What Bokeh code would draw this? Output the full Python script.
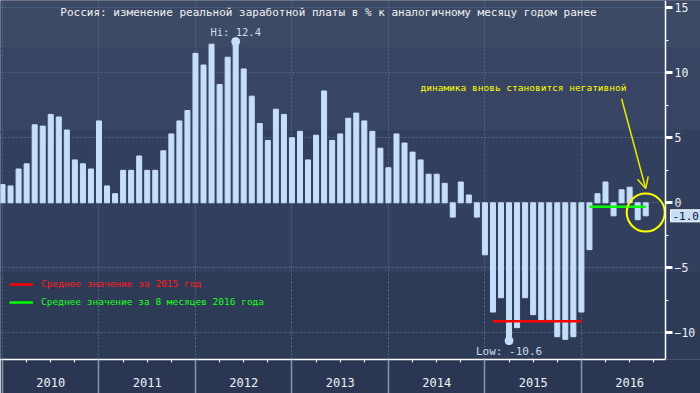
from bokeh.plotting import figure
from bokeh.models import (Range1d, FixedTicker, Label, Arrow, OpenHead, Legend, LegendItem,
                          BoxAnnotation)
from bokeh.core.properties import value
from bokeh.embed import file_html
from bokeh.resources import INLINE

# ---------------- data ----------------
first_month = "2009-12"   # index 0 = Dec 2009, then monthly up to Aug 2016
wage_growth = [
    1.4,
    1.3, 2.6, 3.0, 6.0, 5.9, 6.8, 6.6, 5.6, 3.3, 3.0, 2.6, 6.3,          # 2010
    1.3, 0.7, 2.5, 2.5, 3.6, 2.5, 2.5, 4.0, 5.3, 6.3, 7.1, 11.5,         # 2011
    10.6, 12.2, 9.1, 11.2, 12.4, 10.3, 8.2, 6.1, 4.8, 7.2, 6.8, 5.0,     # 2012
    5.5, 3.3, 5.2, 8.6, 4.8, 5.3, 6.5, 6.9, 6.3, 5.5, 4.2, 2.7,          # 2013
    5.3, 4.6, 3.9, 3.3, 2.2, 2.2, 1.5, -1.1, 1.6, 0.6, -1.1, -4.0,       # 2014
    -8.4, -7.3, -10.6, -9.6, -7.3, -8.6, -9.1, -9.0, -10.3, -10.5, -10.3, -8.4,  # 2015
    -3.6, 0.7, 1.6, -1.0, 1.0, 1.2, -1.3, -1.0,                          # 2016 (8 months)
]
years = ["2010", "2011", "2012", "2013", "2014", "2015", "2016"]
y_ticks = [-10, -5, 0, 5, 10, 15]
y_minor_ticks = [-12.5, -7.5, -2.5, 2.5, 7.5, 12.5]
title_text = "Россия: изменение реальной заработной платы в % к аналогичному месяцу годом ранее"
note_text = "динамика вновь становится негативной"
avg_2015_label = "Среднее значение за 2015 год"
avg_2016_label = "Среднее значение за 8 месяцев 2016 года"

FONT = "DejaVu Sans Mono"
BAR = "#c5defa"
GRID = "#4e6b89"
W, H = 700, 393
FH = 359                       # frame height (bottom axis strip below it)
AXIS_PX = 665                  # where the value axis sits
BANDS = [(0, 48, "#3d4a66"), (48, 131, "#384562"), (131, 273, "#33405d"), (273, 359, "#2e3b57")]

n = len(wage_growth)
xs = list(range(n))
idx_2015 = list(range(1 + 12 * 5, 1 + 12 * 6))
idx_2016 = list(range(1 + 12 * 6, n))
mean_2015 = sum(wage_growth[i] for i in idx_2015) / len(idx_2015)
mean_2016 = sum(wage_growth[i] for i in idx_2016) / len(idx_2016)

X0, X_AXIS = -0.25, 82.46
X_END = X0 + (X_AXIS - X0) * W / AXIS_PX
boundaries = [12 * k for k in range(len(years))]
quarters = [12 * k + q for k in range(len(years)) for q in (3, 6, 9)]
mids = [12 * k + 6 for k in range(len(years))]

p = figure(width=W, height=H, output_backend="svg", toolbar_location=None,
           x_range=Range1d(X0, X_END), y_range=Range1d(-12.05, 15.56),
           y_axis_location="right",
           min_border_left=0, min_border_right=0, min_border_top=0, min_border_bottom=H - FH)
p.background_fill_color = "#33405d"
p.border_fill_color = "#2b3752"
p.outline_line_color = None


def bands(left_px, level):
    # each band overlaps the next one by a pixel so no seam shows
    for k, (top, bot, col) in enumerate(BANDS):
        ext = 1 if k < len(BANDS) - 1 else 0
        p.add_layout(BoxAnnotation(left=left_px, right=W + 2, left_units="screen", right_units="screen",
                                   top=FH - top + 1, bottom=FH - bot - ext,
                                   top_units="screen", bottom_units="screen",
                                   fill_color=col, fill_alpha=1, line_color=None, level=level))


bands(-2, "image")

# grids
p.xgrid.ticker = FixedTicker(ticks=boundaries)
p.ygrid.ticker = FixedTicker(ticks=y_ticks)
for g in (p.xgrid[0], p.ygrid[0]):
    g.grid_line_color = GRID
    g.grid_line_dash = "2 2"
    g.grid_line_width = 1

# the strip right of the value axis has no grid: repaint its bands above the grid
bands(AXIS_PX, "underlay")

# value axis, drawn at a fixed place inside the frame
ya = p.yaxis[0]
ya.fixed_location = X_AXIS
ya.ticker = FixedTicker(ticks=y_ticks, minor_ticks=y_minor_ticks)
ya.axis_line_color = "white"
ya.axis_line_width = 1.5
ya.major_tick_in = 0
ya.major_tick_out = 7
ya.major_tick_line_width = 3
ya.major_tick_line_color = "white"
ya.minor_tick_in = 0
ya.minor_tick_out = 3
ya.minor_tick_line_color = "white"
ya.major_label_standoff = 2
ya.major_label_text_font = FONT
ya.major_label_text_font_size = "11.5px"
ya.major_label_text_color = "#eef2f6"

# bottom axis: quarter ticks carry the year labels, year boundaries are long minor ticks
xa = p.xaxis[0]
xa.bounds = (X0, X_AXIS)
xa.ticker = FixedTicker(ticks=quarters, minor_ticks=boundaries)
xa.major_label_overrides = {q: (years[q // 12] if q in mids else "") for q in quarters}
xa.axis_line_color = "white"
xa.axis_line_width = 1.5
xa.major_tick_in = 0
xa.major_tick_out = 3
xa.major_tick_line_color = "white"
xa.minor_tick_in = 0
xa.minor_tick_out = H - FH
xa.minor_tick_line_color = "#8a97aa"
xa.minor_tick_line_width = 1.5
xa.major_label_standoff = -16
xa.major_label_text_font = FONT
xa.major_label_text_font_size = "12px"
xa.major_label_text_color = "#eef2f6"

# bars
p.vbar(x=xs, top=wage_growth, bottom=0, width=0.62, color=BAR)

# averages
r15 = p.line(x=[idx_2015[0], idx_2015[-1]], y=[mean_2015, mean_2015], line_color="#ff0000", line_width=2.5)
r16 = p.line(x=[idx_2016[0], idx_2016[-1]], y=[mean_2016, mean_2016], line_color="#00ff00", line_width=2.5)

for r, lab, col, yloc in ((r15, avg_2015_label, "#ff1a1a", 70), (r16, avg_2016_label, "#1aff1a", 52)):
    leg = Legend(items=[LegendItem(label=lab, renderers=[r])], location=(9, yloc),
                 background_fill_alpha=0, border_line_alpha=0,
                 label_text_color=col, label_text_font=FONT, label_text_font_size="9.5px",
                 glyph_width=24, glyph_height=10, label_height=10, label_standoff=8,
                 padding=0, margin=0, spacing=0)
    p.add_layout(leg)

# hi / low
vmax = max(wage_growth); imax = wage_growth.index(vmax)
vmin = min(wage_growth); imin = wage_growth.index(vmin)
p.scatter(x=[imax, imin], y=[vmax, vmin], size=8, color=BAR)
p.text(x=[imax], y=[vmax], text=[f"Hi: {vmax:.1f}"], text_align="center", text_baseline="bottom",
       y_offset=-4, text_font=value(FONT), text_font_size="10.5px", text_color="#c8dcf0")
p.text(x=[imin], y=[vmin], text=[f"Low: {vmin:.1f}"], text_align="center", text_baseline="top",
       y_offset=4, text_font=value(FONT), text_font_size="11px", text_color="#c8dcf0")

# title
p.add_layout(Label(x=328, y=FH - 12, x_units="screen", y_units="screen", text=title_text,
                   text_align="center", text_baseline="middle", text_font=FONT,
                   text_font_size="11px", text_color="#f2f2f2"))

# note + arrow + circle
p.add_layout(Label(x=523, y=FH - 87, x_units="screen", y_units="screen", text=note_text,
                   text_align="center", text_baseline="middle", text_font=FONT,
                   text_font_size="9.5px", text_color="#ffff00"))
last = n - 1
p.add_layout(Arrow(x_start=last - 3.0, y_start=8.0, x_end=last, y_end=1.1,
                   line_color="#e8e800", line_width=1.5,
                   end=OpenHead(size=11, line_color="#e8e800", line_width=1.5)))
p.scatter(x=[last], y=[-0.75], size=38, marker="circle", fill_color=None,
          line_color="#ffff00", line_width=2)

# last value tag on the value axis
p.add_layout(Label(x=AXIS_PX + 5, y=wage_growth[-1], x_units="screen", text=f"{wage_growth[-1]:.1f}",
                   text_align="left", text_baseline="middle", text_font=FONT,
                   text_font_size="11px", text_color="#10141c",
                   background_fill_color=BAR, border_line_color="white", padding=2))

open("out.html", "w").write(file_html(p, INLINE))
